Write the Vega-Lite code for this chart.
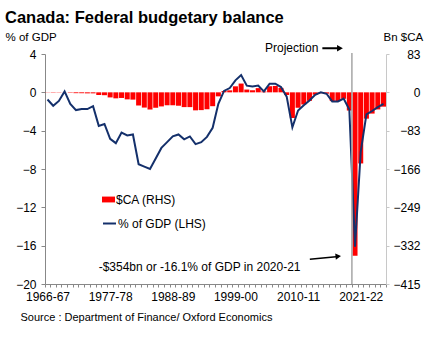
{
  "$schema": "https://vega.github.io/schema/vega-lite/v6.json",
  "autosize": "none",
  "width": 341,
  "height": 230,
  "padding": {"left": 45, "top": 54, "right": 60, "bottom": 66},
  "config": {
    "font": "Liberation Sans",
    "view": {"stroke": null},
    "axis": {"labelFont": "Liberation Sans", "titleFont": "Liberation Sans", "labelColor": "#000", "titleColor": "#000", "grid": false}
  },
  "title": {
    "text": "Canada: Federal budgetary balance",
    "anchor": "start",
    "frame": "group",
    "fontSize": 16.5,
    "fontWeight": "bold",
    "font": "Liberation Sans",
    "color": "#000",
    "dx": -40,
    "offset": 5
  },
  "datasets": {
    "balance": [
      {"year": "1966-67", "bn": -0.4, "pct": -0.75},
      {"year": "1967-68", "bn": -0.7, "pct": -1.4},
      {"year": "1968-69", "bn": -0.6, "pct": -0.9},
      {"year": "1969-70", "bn": 0.1, "pct": 0.1},
      {"year": "1970-71", "bn": -0.9, "pct": -1.2},
      {"year": "1971-72", "bn": -1.8, "pct": -1.85},
      {"year": "1972-73", "bn": -1.9, "pct": -1.75},
      {"year": "1973-74", "bn": -2.2, "pct": -1.75},
      {"year": "1974-75", "bn": -2.2, "pct": -1.45},
      {"year": "1975-76", "bn": -5.8, "pct": -3.5},
      {"year": "1976-77", "bn": -6.2, "pct": -3.3},
      {"year": "1977-78", "bn": -11.0, "pct": -4.85},
      {"year": "1978-79", "bn": -13.0, "pct": -5.3},
      {"year": "1979-80", "bn": -12.2, "pct": -4.2},
      {"year": "1980-81", "bn": -15.2, "pct": -4.5},
      {"year": "1981-82", "bn": -15.8, "pct": -4.4},
      {"year": "1982-83", "bn": -28.5, "pct": -7.5},
      {"year": "1983-84", "bn": -33.0, "pct": -7.75},
      {"year": "1984-85", "bn": -37.2, "pct": -8.0},
      {"year": "1985-86", "bn": -33.4, "pct": -6.9},
      {"year": "1986-87", "bn": -30.5, "pct": -5.8},
      {"year": "1987-88", "bn": -28.0, "pct": -5.2},
      {"year": "1988-89", "bn": -28.0, "pct": -4.6},
      {"year": "1989-90", "bn": -29.0, "pct": -4.4},
      {"year": "1990-91", "bn": -32.0, "pct": -4.9},
      {"year": "1991-92", "bn": -32.0, "pct": -4.6},
      {"year": "1992-93", "bn": -39.0, "pct": -5.4},
      {"year": "1993-94", "bn": -38.5, "pct": -5.2},
      {"year": "1994-95", "bn": -36.6, "pct": -4.65},
      {"year": "1995-96", "bn": -30.0, "pct": -3.7},
      {"year": "1996-97", "bn": -8.7, "pct": -1.2},
      {"year": "1997-98", "bn": 2.9, "pct": 0.15},
      {"year": "1998-99", "bn": 4.3, "pct": 0.45},
      {"year": "1999-00", "bn": 13.0, "pct": 1.25},
      {"year": "2000-01", "bn": 19.0, "pct": 1.8},
      {"year": "2001-02", "bn": 6.0, "pct": 0.7},
      {"year": "2002-03", "bn": 4.5, "pct": 0.6},
      {"year": "2003-04", "bn": 9.1, "pct": 0.7},
      {"year": "2004-05", "bn": 2.0, "pct": 0.1},
      {"year": "2005-06", "bn": 13.2, "pct": 0.9},
      {"year": "2006-07", "bn": 13.8, "pct": 0.9},
      {"year": "2007-08", "bn": 9.6, "pct": 0.55},
      {"year": "2008-09", "bn": -5.8, "pct": -0.45},
      {"year": "2009-10", "bn": -55.6, "pct": -3.65},
      {"year": "2010-11", "bn": -33.4, "pct": -1.9},
      {"year": "2011-12", "bn": -26.3, "pct": -1.35},
      {"year": "2012-13", "bn": -18.4, "pct": -0.85},
      {"year": "2013-14", "bn": -5.2, "pct": -0.25},
      {"year": "2014-15", "bn": -1.9, "pct": 0.0},
      {"year": "2015-16", "bn": -2.9, "pct": -0.15},
      {"year": "2016-17", "bn": -19.0, "pct": -0.95},
      {"year": "2017-18", "bn": -19.0, "pct": -0.95},
      {"year": "2018-19", "bn": -14.0, "pct": -0.65},
      {"year": "2019-20", "bn": -39.4, "pct": -1.8},
      {"year": "2020-21", "bn": -354.0, "pct": -16.1},
      {"year": "2021-22", "bn": -154.0, "pct": -6.2},
      {"year": "2022-23", "bn": -57.0, "pct": -2.3},
      {"year": "2023-24", "bn": -46.0, "pct": -1.95},
      {"year": "2024-25", "bn": -37.0, "pct": -1.55},
      {"year": "2025-26", "bn": -31.0, "pct": -1.2}
    ]
  },
  "layer": [
    {
      "data": {"name": "balance"},
      "encoding": {
        "x": {
          "field": "year",
          "type": "ordinal",
          "sort": null,
          "scale": {"paddingInner": 0.12, "paddingOuter": 0},
          "axis": {
            "title": "Source : Department of Finance/ Oxford Economics",
            "titleFontSize": 11,
            "titleFontWeight": "normal",
            "titleAnchor": "start",
            "titleAlign": "left",
            "titleBaseline": "middle",
            "titleX": -25,
            "titleY": 33,
            "labelAngle": 0,
            "labelFontSize": 12,
            "labelPadding": 4,
            "labelOverlap": false,
            "labelExpr": "indexof(['1966-67','1977-78','1988-89','1999-00','2010-11','2021-22'], datum.label) >= 0 ? datum.label : ''",
            "tickBand": "extent",
            "tickSize": 3,
            "tickColor": "#888888",
            "domainColor": "#888888"
          }
        }
      },
      "layer": [
        {
          "mark": {"type": "bar"},
          "encoding": {
            "y": {
              "field": "bn",
              "type": "quantitative",
              "scale": {"domain": [-415, 83], "nice": false, "zero": false},
              "axis": {
                "orient": "right",
                "values": [-415, -332, -249, -166, -83, 0, 83],
                "title": "Bn $CA",
                "titleAngle": 0,
                "titleAlign": "left",
                "titleBaseline": "middle",
                "titleX": -3,
                "titleY": -17,
                "titleFontSize": 11.5,
                "titleFontWeight": "normal",
                "labelFontSize": 12,
                "labelAlign": "right",
                "labelPadding": 31,
                "tickSize": 3,
                "tickColor": "#c8c8c8",
                "domainColor": "#c8c8c8"
              }
            },
            "color": {
              "datum": "$CA (RHS)",
              "type": "nominal",
              "scale": {"range": ["#ff0000"]},
              "legend": {
                "title": null,
                "orient": "none",
                "legendX": 57,
                "legendY": 139,
                "padding": 0,
                "symbolType": "M-1,-0.45H1V0.45H-1Z",
                "symbolSize": 169,
                "symbolStrokeWidth": 0,
                "labelFontSize": 12,
                "labelColor": "#000",
                "labelOffset": 1,
                "labelFont": "Liberation Sans"
              }
            }
          }
        },
        {
          "mark": {"type": "line", "strokeWidth": 2},
          "encoding": {
            "y": {
              "field": "pct",
              "type": "quantitative",
              "scale": {"domain": [-20, 4], "nice": false, "zero": false},
              "axis": {
                "orient": "left",
                "values": [-20, -16, -12, -8, -4, 0, 4],
                "title": "% of GDP",
                "titleAngle": 0,
                "titleAlign": "left",
                "titleBaseline": "middle",
                "titleX": -40,
                "titleY": -17,
                "titleFontSize": 11.5,
                "titleFontWeight": "normal",
                "labelFontSize": 12,
                "labelPadding": 5,
                "tickSize": 4,
                "tickColor": "#888888",
                "domainColor": "#888888"
              }
            },
            "stroke": {
              "datum": "% of GDP (LHS)",
              "type": "nominal",
              "scale": {"range": ["#14306b"]},
              "legend": {
                "title": null,
                "orient": "none",
                "legendX": 57,
                "legendY": 162,
                "padding": 0,
                "symbolType": "stroke",
                "symbolSize": 169,
                "symbolStrokeWidth": 2,
                "labelFontSize": 12,
                "labelColor": "#000",
                "labelOffset": 1,
                "labelFont": "Liberation Sans"
              }
            }
          }
        }
      ],
      "resolve": {"scale": {"y": "independent"}}
    },
    {
      "data": {"values": [{}]},
      "layer": [
        {
          "mark": {"type": "rule", "color": "#a6a6a6", "strokeWidth": 1.5},
          "encoding": {
            "x": {"datum": 54, "type": "quantitative", "scale": {"domain": [0, 60], "nice": false, "zero": false}, "axis": null},
            "y": {"datum": 4.1, "type": "quantitative", "scale": {"domain": [-20, 4], "nice": false, "zero": false}, "axis": null},
            "y2": {"datum": -20}
          }
        },
        {
          "mark": {"type": "text", "text": "Projection", "align": "right", "baseline": "middle", "fontSize": 12, "color": "#000", "font": "Liberation Sans"},
          "encoding": {
            "x": {"datum": 48.1, "type": "quantitative", "scale": {"domain": [0, 60], "nice": false, "zero": false}, "axis": null},
            "y": {"datum": 4.6, "type": "quantitative", "scale": {"domain": [-20, 4], "nice": false, "zero": false}, "axis": null}
          }
        },
        {
          "mark": {"type": "rule", "color": "#000", "strokeWidth": 2},
          "encoding": {
            "x": {"datum": 48.8, "type": "quantitative", "scale": {"domain": [0, 60], "nice": false, "zero": false}, "axis": null},
            "x2": {"datum": 51.6},
            "y": {"datum": 4.6, "type": "quantitative", "scale": {"domain": [-20, 4], "nice": false, "zero": false}, "axis": null}
          }
        },
        {
          "mark": {"type": "point", "shape": "triangle-right", "filled": true, "size": 45, "color": "#000", "opacity": 1},
          "encoding": {
            "x": {"datum": 51.9, "type": "quantitative", "scale": {"domain": [0, 60], "nice": false, "zero": false}, "axis": null},
            "y": {"datum": 4.6, "type": "quantitative", "scale": {"domain": [-20, 4], "nice": false, "zero": false}, "axis": null}
          }
        },
        {
          "mark": {"type": "text", "text": "-$354bn or -16.1% of GDP in 2020-21", "align": "center", "baseline": "middle", "fontSize": 12, "color": "#000", "font": "Liberation Sans"},
          "encoding": {
            "x": {"datum": 27.2, "type": "quantitative", "scale": {"domain": [0, 60], "nice": false, "zero": false}, "axis": null},
            "y": {"datum": -18.23, "type": "quantitative", "scale": {"domain": [-20, 4], "nice": false, "zero": false}, "axis": null}
          }
        },
        {
          "mark": {"type": "rule", "color": "#000", "strokeWidth": 1.5},
          "encoding": {
            "x": {"datum": 46.6, "type": "quantitative", "scale": {"domain": [0, 60], "nice": false, "zero": false}, "axis": null},
            "x2": {"datum": 51.2},
            "y": {"datum": -17.43, "type": "quantitative", "scale": {"domain": [-20, 4], "nice": false, "zero": false}, "axis": null},
            "y2": {"datum": -17.16}
          }
        },
        {
          "mark": {"type": "point", "shape": "triangle-right", "filled": true, "size": 40, "color": "#000", "opacity": 1, "angle": -6},
          "encoding": {
            "x": {"datum": 51.6, "type": "quantitative", "scale": {"domain": [0, 60], "nice": false, "zero": false}, "axis": null},
            "y": {"datum": -17.12, "type": "quantitative", "scale": {"domain": [-20, 4], "nice": false, "zero": false}, "axis": null}
          }
        }
      ]
    }
  ],
  "resolve": {"scale": {"x": "independent", "y": "independent"}}
}
